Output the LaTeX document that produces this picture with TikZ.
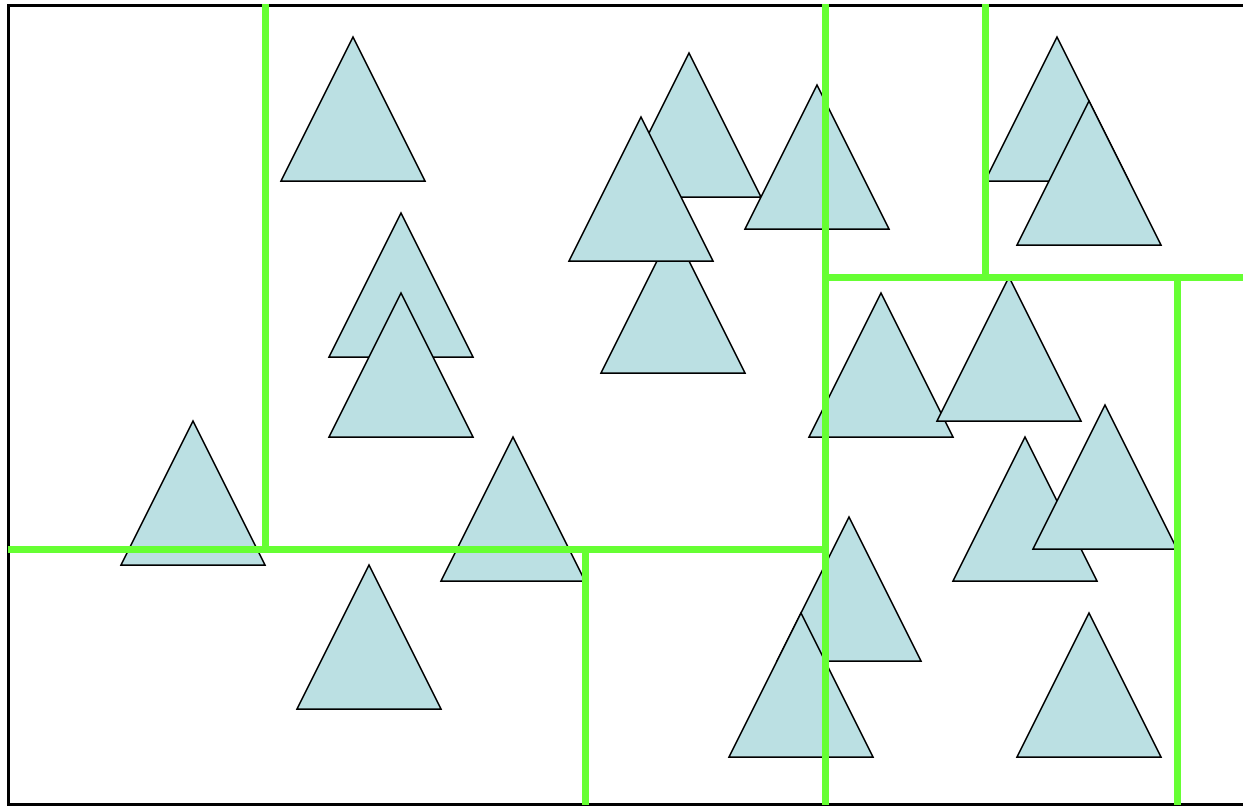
\documentclass[tikz,border=0pt]{standalone}
\definecolor{trifill}{RGB}{187,224,227}
\definecolor{splitgreen}{RGB}{102,255,51}
\begin{document}
\begin{tikzpicture}[x=1pt,y=-1pt,
  tri/.style={fill=trifill,draw=black,line width=1.5pt,line join=miter},
  split/.style={draw=splitgreen,line width=7pt},
  frame/.style={draw=black,line width=3pt}]
\useasboundingbox (0,0) rectangle (1243,806);
\fill[white] (0,0) rectangle (1243,806);
\draw[frame] (8,5) rectangle (1250,804);
% triangles: apex (x,y), width 144, height 144
\foreach \ax/\ay in {353/37, 673/229, 689/53, 641/117, 817/85,
  401/213, 401/293, 193/421, 513/437, 369/565,
  1057/37, 1089/101, 881/293, 1009/277, 1025/437, 1105/405,
  849/517, 801/613, 1089/613}
  \draw[tri] (\ax,\ay) -- ({\ax+72},{\ay+144}) -- ({\ax-72},{\ay+144}) -- cycle;
% green split lines
\coordinate (g1a) at (265,4); \coordinate (g1b) at (265,549);
\coordinate (g2a) at (8,549); \coordinate (g2b) at (825,549);
\coordinate (g3a) at (825,4); \coordinate (g3b) at (825,805);
\coordinate (g4a) at (585,549); \coordinate (g4b) at (585,805);
\coordinate (g5a) at (825,277); \coordinate (g5b) at (1243,277);
\coordinate (g6a) at (985,4); \coordinate (g6b) at (985,277);
\coordinate (g7a) at (1177,277); \coordinate (g7b) at (1177,805);
\draw[split] (g1a) -- (g1b);
\draw[split] (g2a) -- (g2b);
\draw[split] (g3a) -- (g3b);
\draw[split] (g4a) -- (g4b);
\draw[split] (g5a) -- (g5b);
\draw[split] (g6a) -- (g6b);
\draw[split] (g7a) -- (g7b);
\end{tikzpicture}
\end{document}
